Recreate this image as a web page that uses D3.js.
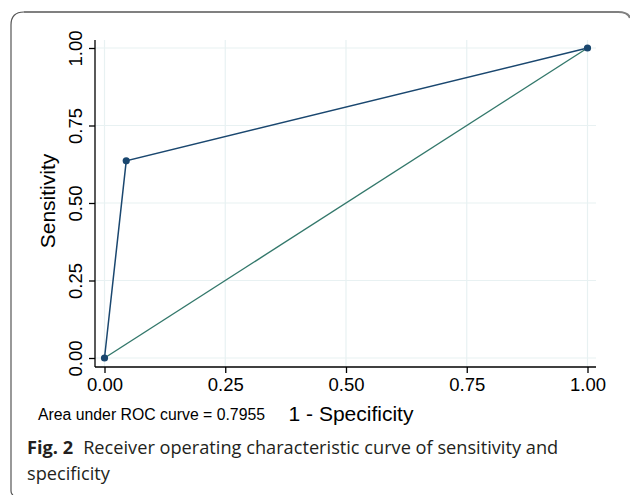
<!DOCTYPE html>
<html>
<head>
<meta charset="utf-8">
<script src="https://cdn.jsdelivr.net/npm/d3@7"></script>
<style>
  body { margin: 0; background: #fff; }
  svg { display: block; }
</style>
</head>
<body>
<script>
// ROC points (1 - specificity, sensitivity)
const fpr = [0, 0.045, 1];
const tpr = [0, 0.636, 1];
const ticks = [0, 0.25, 0.5, 0.75, 1];
const tickLabels = ['0.00', '0.25', '0.50', '0.75', '1.00'];
const auc = '0.7955';

const WIDTH = 630;
const HEIGHT = 495;
const SANS = "'Liberation Sans', Arial, sans-serif";
const CAPTION = "'Open Sans', 'Noto Sans', sans-serif";

const svg = d3.select('body').append('svg')
    .attr('width', WIDTH)
    .attr('height', HEIGHT);

// panel frame (only top and left edges visible)
svg.append('path')
    .attr('d', 'M13,495 Q11,494 11,491 L11,25 Q11,12 24,12')
    .attr('fill', 'none')
    .attr('stroke', '#555')
    .attr('stroke-width', 1.2);
svg.append('path')
    .attr('d', 'M24,12 L618,12 Q628,12 630,18')
    .attr('fill', 'none')
    .attr('stroke', '#808080')
    .attr('stroke-width', 2.2);

const x = d3.scaleLinear().domain([0, 1]).range([104.5, 587.5]);
const y = d3.scaleLinear().domain([0, 1]).range([358, 48]);

const plotLeft = 95, plotRight = 596, plotTop = 40, plotBottom = 367;

// grid lines
const grid = svg.append('g').attr('stroke', '#e8f1f2').attr('stroke-width', 1.2);
grid.selectAll('.gx').data(ticks).enter().append('line')
    .attr('x1', d => x(d)).attr('x2', d => x(d))
    .attr('y1', plotTop).attr('y2', plotBottom);
grid.selectAll('.gy').data(ticks).enter().append('line')
    .attr('x1', plotLeft).attr('x2', plotRight)
    .attr('y1', d => y(d)).attr('y2', d => y(d));

// axes
const xAxis = d3.axisBottom(x).tickValues(ticks).tickFormat((d, i) => tickLabels[i]).tickSize(6).tickSizeOuter(0);
const yAxis = d3.axisLeft(y).tickValues(ticks).tickFormat((d, i) => tickLabels[i]).tickSize(6).tickSizeOuter(0);

const gx = svg.append('g').attr('transform', `translate(0,${plotBottom})`).call(xAxis);
gx.select('.domain').attr('d', `M${plotLeft},0H${plotRight}`);
gx.selectAll('text')
    .attr('y', 11)
    .style('font-family', SANS)
    .style('font-size', '18.5px')
    .attr('fill', '#000');

const gy = svg.append('g').attr('transform', `translate(${plotLeft},0)`).call(yAxis);
gy.select('.domain').attr('d', `M0,${plotTop}V${plotBottom}`);
gy.selectAll('.tick text')
    .attr('x', null).attr('dy', null)
    .attr('transform', 'translate(-13,0) rotate(-90)')
    .attr('text-anchor', 'middle')
    .style('font-family', SANS)
    .style('font-size', '18.5px')
    .attr('fill', '#000');

svg.selectAll('.domain, .tick line').attr('stroke', '#000').attr('stroke-width', 1.3);

// reference diagonal
svg.append('line')
    .attr('x1', x(0)).attr('y1', y(0))
    .attr('x2', x(1)).attr('y2', y(1))
    .attr('stroke', '#33786b')
    .attr('stroke-width', 1.4);

// ROC curve
const pts = fpr.map((d, i) => [d, tpr[i]]);
svg.append('path')
    .datum(pts)
    .attr('d', d3.line().x(d => x(d[0])).y(d => y(d[1])))
    .attr('fill', 'none')
    .attr('stroke', '#1a476f')
    .attr('stroke-width', 1.5);
svg.selectAll('.pt').data(pts).enter().append('circle')
    .attr('cx', d => x(d[0])).attr('cy', d => y(d[1]))
    .attr('r', 3.6)
    .attr('fill', '#1a476f');

// axis titles
svg.append('text')
    .attr('transform', 'translate(55,201) rotate(-90)')
    .attr('text-anchor', 'middle')
    .style('font-family', SANS)
    .style('font-size', '21px')
    .text('Sensitivity');

svg.append('text')
    .attr('x', 351).attr('y', 421)
    .attr('text-anchor', 'middle')
    .style('font-family', SANS)
    .style('font-size', '21px')
    .text('1 - Specificity');

svg.append('text')
    .attr('x', 38).attr('y', 420)
    .style('font-family', SANS)
    .style('font-size', '15.8px')
    .text(`Area under ROC curve = ${auc}`);

// caption
const cap = svg.append('text')
    .attr('x', 27).attr('y', 454)
    .style('font-family', CAPTION)
    .style('font-size', '18.2px')
    .attr('fill', '#231f20');
cap.append('tspan').style('font-weight', 'bold').text('Fig. 2');
cap.append('tspan').attr('dx', 10).text('Receiver operating characteristic curve of sensitivity and');

svg.append('text')
    .attr('x', 27).attr('y', 480)
    .style('font-family', CAPTION)
    .style('font-size', '18.2px')
    .attr('fill', '#231f20')
    .text('specificity');
</script>
</body>
</html>
